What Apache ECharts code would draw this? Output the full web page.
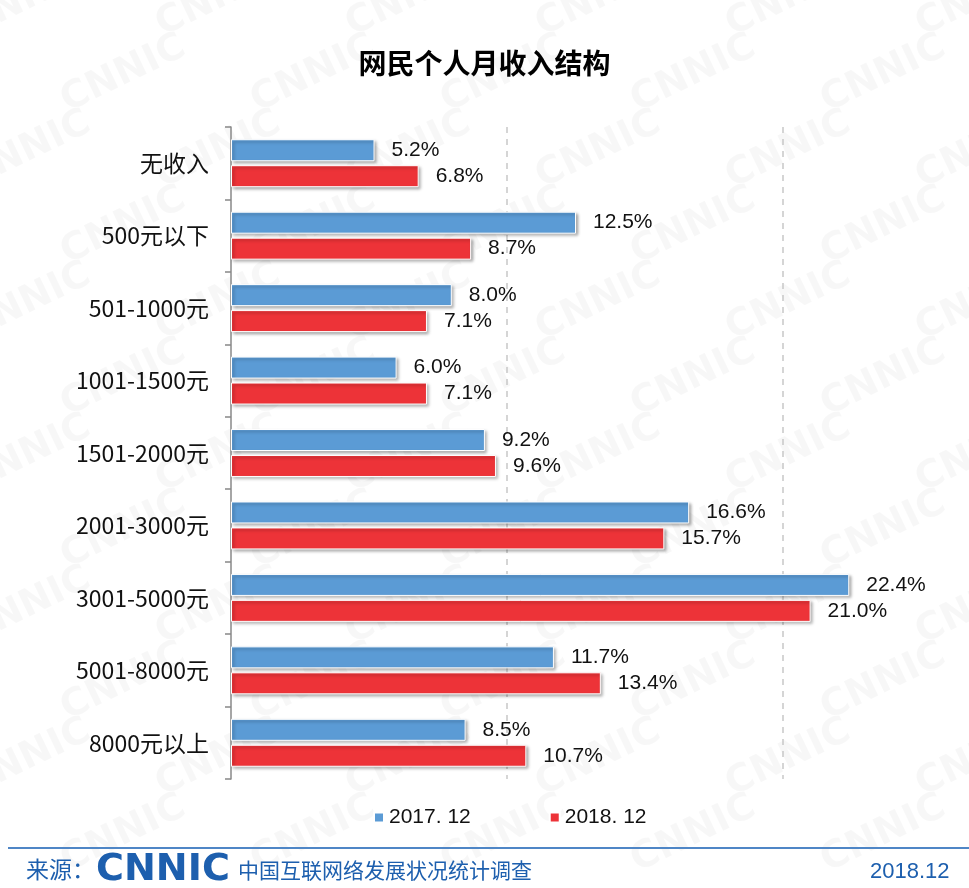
<!DOCTYPE html>
<html>
<head>
<meta charset="utf-8">
<script src="https://cdn.jsdelivr.net/npm/echarts@6/dist/echarts.min.js"></script>
<style>
  html, body { margin: 0; padding: 0; background: #fff; }
  #main { width: 969px; height: 888px; }
</style>
</head>
<body>
<div id="main"></div>
<script>
// 数据
const categories = ['无收入', '500元以下', '501-1000元', '1001-1500元', '1501-2000元', '2001-3000元', '3001-5000元', '5001-8000元', '8000元以上']
const series2017 = [5.2, 12.5, 8.0, 6.0, 9.2, 16.6, 22.4, 11.7, 8.5]
const series2018 = [6.8, 8.7, 7.1, 7.1, 9.6, 15.7, 21.0, 13.4, 10.7]
const seriesNames = ['2017. 12', '2018. 12']

const cjk = '"Noto Sans CJK SC", sans-serif'
const latin = '"Liberation Sans", Arial, sans-serif'
const footBlue = '#1d5fae'

const chart = echarts.init(document.getElementById('main'))

// 背景水印
let marks = []
for (let r = 0; r < 12; r++) {
  for (let c = 0; c < 6; c++) {
    marks.push({
      type: 'text',
      x: c * 190 + (r % 2) * 95 - 40,
      y: r * 76 + 10,
      rotation: 0.45,
      silent: true,
      z: -10,
      style: {
        text: 'CNNIC',
        fill: 'rgba(0,0,0,0.03)',
        font: 'bold 38px "DejaVu Sans", sans-serif'
      }
    })
  }
}

function barSeries(name, data, color) {
  return {
    name: name,
    type: 'bar',
    data: data,
    barWidth: 22,
    barGap: '18%',
    itemStyle: {
      color: color,
      borderColor: '#fff',
      borderWidth: 1,
      shadowColor: 'rgba(0,0,0,0.35)',
      shadowBlur: 3,
      shadowOffsetX: 2,
      shadowOffsetY: 2
    },
    label: {
      show: true,
      position: 'right',
      distance: 17,
      formatter: (p) => p.value.toFixed(1) + '%',
      fontFamily: latin,
      fontSize: 21,
      color: '#111'
    }
  }
}

const option = {
  backgroundColor: '#fff',
  animation: false,
  title: {
    text: '网民个人月收入结构',
    left: 'center',
    top: 44,
    textStyle: { fontFamily: cjk, fontSize: 28, fontWeight: 'bold', color: '#000' }
  },
  legend: {
    data: seriesNames,
    bottom: 55,
    left: 368,
    itemWidth: 10,
    itemHeight: 10,
    itemGap: 78,
    icon: 'rect',
    textStyle: { fontFamily: latin, fontSize: 21, color: '#111' }
  },
  grid: { left: 231, right: 48, top: 127, bottom: 109 },
  xAxis: {
    type: 'value',
    min: 0,
    max: 25,
    interval: 10,
    axisLine: { show: false },
    axisTick: { show: false },
    axisLabel: { show: false },
    splitLine: {
      show: true,
      lineStyle: { type: [6, 6], width: 1.5, color: ['rgba(0,0,0,0)', '#c8c8c8', '#c8c8c8', 'rgba(0,0,0,0)'] }
    }
  },
  yAxis: {
    type: 'category',
    data: categories,
    inverse: true,
    axisLine: { show: true, lineStyle: { color: '#888', width: 1.5 } },
    axisTick: { show: true, length: 6, lineStyle: { color: '#888', width: 1.5 } },
    axisLabel: { fontFamily: cjk, fontSize: 23, color: '#111', margin: 22 }
  },
  series: [
    barSeries(seriesNames[0], series2017, '#5b9bd5'),
    barSeries(seriesNames[1], series2018, '#ed3338')
  ],
  graphic: marks.concat([
    {
      type: 'rect',
      shape: { x: 8, y: 847, width: 961, height: 2 },
      style: { fill: '#4f86c6' },
      silent: true
    },
    {
      type: 'text', x: 26, y: 858, silent: true,
      style: { text: '来源：', fill: footBlue, font: '23px "Noto Sans CJK SC", sans-serif' }
    },
    {
      type: 'text', x: 96, y: 852, scaleX: 1.03, silent: true,
      style: { text: 'CNNIC', fill: footBlue, font: 'bold 37px "DejaVu Sans", sans-serif' }
    },
    {
      type: 'text', x: 238, y: 860, silent: true,
      style: { text: '中国互联网络发展状况统计调查', fill: footBlue, font: '21px "Noto Sans CJK SC", sans-serif' }
    },
    {
      type: 'text', x: 870, y: 861, silent: true,
      style: { text: '2018.12', fill: footBlue, font: '22px "Liberation Sans", Arial, sans-serif' }
    }
  ])
}

chart.setOption(option)
window.addEventListener('resize', () => {
  chart.resize()
})
</script>
</body>
</html>
